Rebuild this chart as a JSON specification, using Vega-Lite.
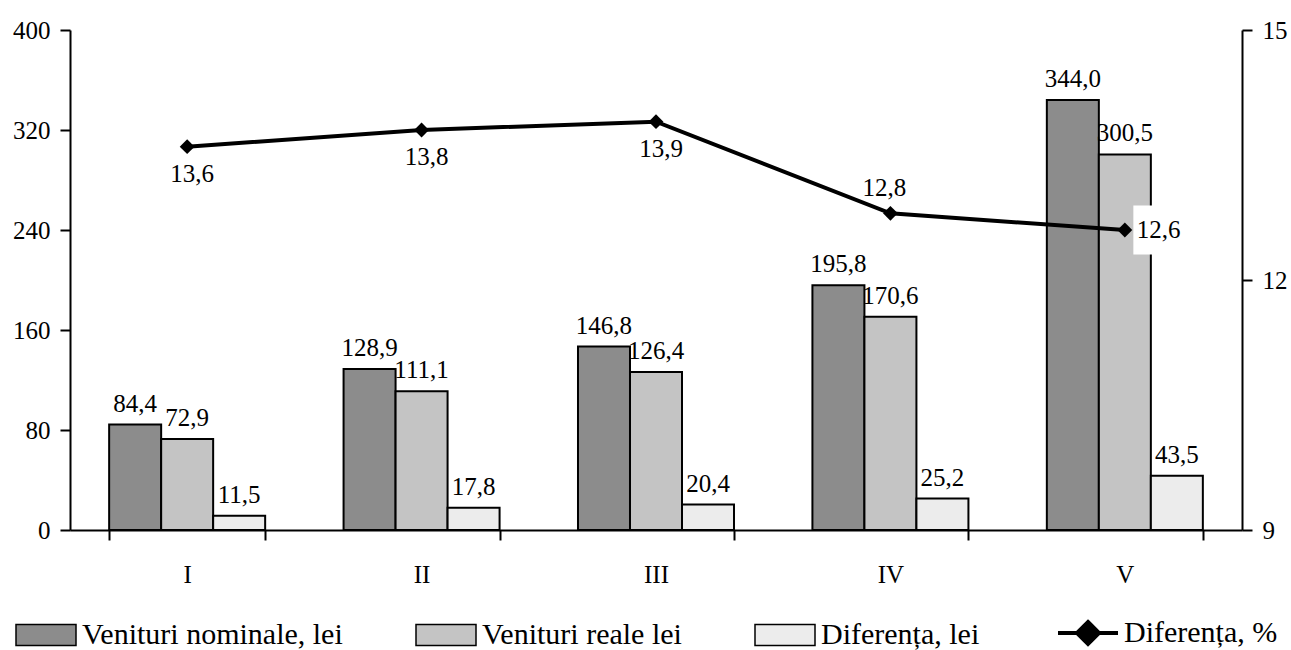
{
  "$schema": "https://vega.github.io/schema/vega-lite/v6.json",
  "width": 1172,
  "height": 500,
  "autosize": {"type": "none"},
  "padding": {"left": 70, "top": 30, "right": 49, "bottom": 120},
  "config": {
    "font": "Liberation Serif",
    "locale": {"number": {"decimal": ",", "thousands": ".", "grouping": [3], "currency": ["", ""]}},
    "view": {"stroke": null},
    "axis": {
      "domainColor": "black", "domainWidth": 2, "tickColor": "black", "tickWidth": 2,
      "labelFont": "Liberation Serif", "labelFontSize": 25, "labelColor": "black", "grid": false
    },
    "legend": {"labelFont": "Liberation Serif"},
    "mark": {"font": "Liberation Serif"}
  },
  "datasets": {
    "venituri": [
      {"quintila": "I", "serie": "Venituri nominale, lei", "valoare": 84.4},
      {"quintila": "I", "serie": "Venituri reale lei", "valoare": 72.9},
      {"quintila": "I", "serie": "Diferența, lei", "valoare": 11.5},
      {"quintila": "II", "serie": "Venituri nominale, lei", "valoare": 128.9},
      {"quintila": "II", "serie": "Venituri reale lei", "valoare": 111.1},
      {"quintila": "II", "serie": "Diferența, lei", "valoare": 17.8},
      {"quintila": "III", "serie": "Venituri nominale, lei", "valoare": 146.8},
      {"quintila": "III", "serie": "Venituri reale lei", "valoare": 126.4},
      {"quintila": "III", "serie": "Diferența, lei", "valoare": 20.4},
      {"quintila": "IV", "serie": "Venituri nominale, lei", "valoare": 195.8},
      {"quintila": "IV", "serie": "Venituri reale lei", "valoare": 170.6},
      {"quintila": "IV", "serie": "Diferența, lei", "valoare": 25.2},
      {"quintila": "V", "serie": "Venituri nominale, lei", "valoare": 344.0},
      {"quintila": "V", "serie": "Venituri reale lei", "valoare": 300.5},
      {"quintila": "V", "serie": "Diferența, lei", "valoare": 43.5}
    ],
    "procent": [
      {"quintila": "I", "procent": 13.6},
      {"quintila": "II", "procent": 13.8},
      {"quintila": "III", "procent": 13.9},
      {"quintila": "IV", "procent": 12.8},
      {"quintila": "V", "procent": 12.6}
    ]
  },
  "layer": [
    {
      "data": {"name": "venituri"},
      "layer": [
        {
          "mark": {"type": "bar", "stroke": "black", "strokeWidth": 2},
          "encoding": {
            "x": {
              "field": "quintila", "type": "nominal", "sort": null, "title": null,
              "scale": {"paddingInner": 0.3345, "paddingOuter": 0.167},
              "axis": {
                "labelAngle": 0, "tickBand": "extent", "tickSize": 10, "labelPadding": 22,
                "encode": {"ticks": {"update": {"y": {"value": -10}}}}
              }
            },
            "xOffset": {"field": "serie", "type": "nominal", "sort": ["Venituri nominale, lei", "Venituri reale lei", "Diferența, lei"]},
            "y": {
              "field": "valoare", "type": "quantitative", "title": null,
              "scale": {"domain": [0, 400]},
              "axis": {
                "values": [0, 80, 160, 240, 320, 400], "format": "d", "tickSize": 10, "labelPadding": 10,
                "encode": {"ticks": {"update": {"x": {"value": 10}}}}
              }
            },
            "fill": {
              "field": "serie", "type": "nominal",
              "scale": {
                "domain": ["Venituri nominale, lei", "Venituri reale lei", "Diferența, lei", "Diferența, %"],
                "range": ["#8c8c8c", "#c4c4c4", "#ececec", "black"]
              },
              "legend": {
                "orient": "none", "legendX": -39, "legendY": 588, "direction": "horizontal", "padding": 0,
                "title": null, "labelFontSize": 30, "labelFont": "Liberation Serif", "labelColor": "black",
                "labelLimit": 500, "labelOffset": 21, "columnPadding": 70,
                "symbolType": "M-1.5,-0.52H1.5V0.52H-1.5Z", "symbolSize": 1600,
                "symbolStrokeColor": "black", "symbolStrokeWidth": 1.5,
                "encode": {
                  "labels": {"update": {"font": {"value": "Liberation Serif"}}},
                  "symbols": {
                    "update": {
                      "shape": {"signal": "datum.value === 'Diferența, %' ? 'M-1.5,0H1.5M0,-0.55L0.55,0L0,0.55L-0.55,0Z' : 'M-1.5,-0.52H1.5V0.52H-1.5Z'"},
                      "strokeWidth": {"signal": "datum.value === 'Diferența, %' ? 4 : 1.5"}
                    }
                  }
                }
              }
            }
          }
        },
        {
          "mark": {"type": "text", "baseline": "bottom", "dy": -8, "font": "Liberation Serif", "fontSize": 25, "color": "black"},
          "encoding": {
            "x": {"field": "quintila", "type": "nominal", "sort": null, "title": null},
            "xOffset": {"field": "serie", "type": "nominal", "sort": ["Venituri nominale, lei", "Venituri reale lei", "Diferența, lei"]},
            "y": {"field": "valoare", "type": "quantitative", "title": null},
            "text": {"field": "valoare", "type": "quantitative", "format": ".1f"}
          }
        }
      ]
    },
    {
      "data": {"name": "procent"},
      "layer": [
        {
          "transform": [{"filter": "datum.quintila === 'V'"}],
          "mark": {"type": "point", "shape": "square", "size": 2400, "filled": true, "color": "white", "opacity": 1, "xOffset": 33},
          "encoding": {
            "x": {"field": "quintila", "type": "nominal", "sort": null, "title": null},
            "y": {"field": "procent", "type": "quantitative", "title": null, "scale": {"domain": [9, 15]}}
          }
        },
        {
          "mark": {
            "type": "line", "color": "black", "strokeWidth": 4,
            "point": {"shape": "diamond", "size": 220, "filled": true, "color": "black", "opacity": 1}
          },
          "encoding": {
            "x": {"field": "quintila", "type": "nominal", "sort": null, "title": null},
            "y": {
              "field": "procent", "type": "quantitative", "title": null,
              "scale": {"domain": [9, 15]},
              "axis": {
                "orient": "right", "values": [9, 12, 15], "format": "d", "tickSize": 10, "labelPadding": 10,
                "encode": {"ticks": {"update": {"x": {"value": -10}}}}
              }
            }
          }
        },
        {
          "transform": [{"filter": "datum.procent >= 13.5"}],
          "mark": {"type": "text", "baseline": "middle", "dy": 27, "dx": 5, "font": "Liberation Serif", "fontSize": 25, "color": "black"},
          "encoding": {
            "x": {"field": "quintila", "type": "nominal", "sort": null, "title": null},
            "y": {"field": "procent", "type": "quantitative", "title": null, "scale": {"domain": [9, 15]}},
            "text": {"field": "procent", "type": "quantitative", "format": ".1f"}
          }
        },
        {
          "transform": [{"filter": "datum.quintila === 'IV'"}],
          "mark": {"type": "text", "baseline": "middle", "dy": -25, "dx": -6, "font": "Liberation Serif", "fontSize": 25, "color": "black"},
          "encoding": {
            "x": {"field": "quintila", "type": "nominal", "sort": null, "title": null},
            "y": {"field": "procent", "type": "quantitative", "title": null, "scale": {"domain": [9, 15]}},
            "text": {"field": "procent", "type": "quantitative", "format": ".1f"}
          }
        },
        {
          "transform": [{"filter": "datum.quintila === 'V'"}],
          "mark": {"type": "text", "baseline": "middle", "align": "left", "dx": 12, "font": "Liberation Serif", "fontSize": 25, "color": "black"},
          "encoding": {
            "x": {"field": "quintila", "type": "nominal", "sort": null, "title": null},
            "y": {"field": "procent", "type": "quantitative", "title": null, "scale": {"domain": [9, 15]}},
            "text": {"field": "procent", "type": "quantitative", "format": ".1f"}
          }
        }
      ]
    }
  ],
  "resolve": {"scale": {"y": "independent"}}
}
